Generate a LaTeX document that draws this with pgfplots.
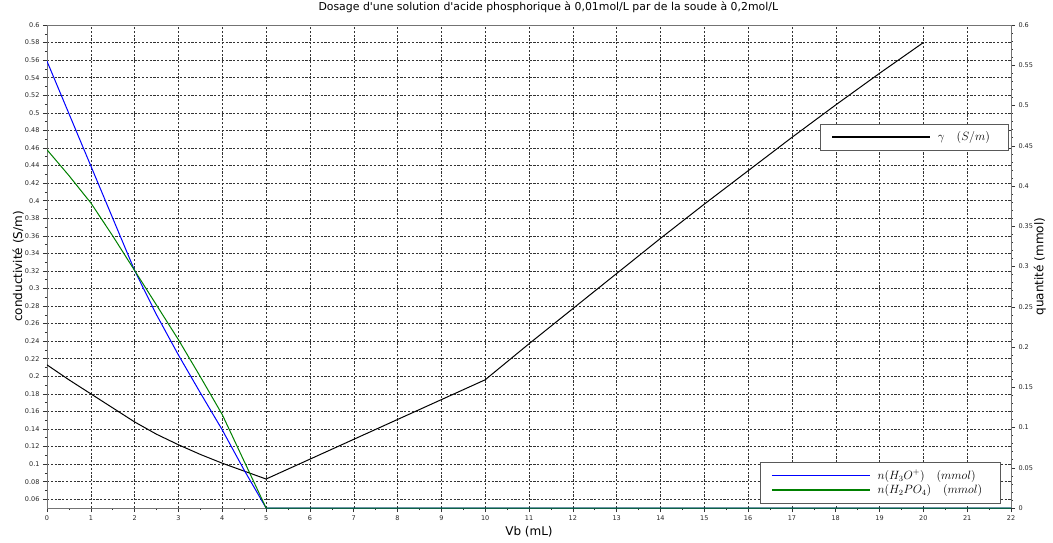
\documentclass[border=0pt]{standalone}
\usepackage{fontspec}
\setmainfont{DejaVu Sans}[Ligatures=TeXOff]
\usepackage{pgfplots}
\pgfplotsset{compat=1.18}
\pgfplotsset{legend image code/.code={\draw[#1, line width=1.2pt] (0pt,0pt) -- (98pt,0pt);}}
\begin{document}
\begin{tikzpicture}[x=1pt,y=1pt]
\useasboundingbox (0,0) rectangle (1053,542);
\pgfplotsset{
  common/.style={
    at={(47pt,34pt)}, anchor=south west,
    scale only axis, width=964pt, height=483pt,
    xmin=0, xmax=22,
    tick align=outside,
    major tick length=4pt, minor tick length=2pt,
    tick style={black!80, line width=0.5pt},
    axis line style={black!55, line width=0.8pt},
    ticklabel style={font=\fontsize{6.5}{7}\selectfont, text=black!85},
    /pgf/number format/assume math mode=true,
    /pgf/number format/fixed,
    /pgf/number format/precision=2,
    scaled ticks=false,
    legend cell align=left,
    legend style={draw=none, fill=white,
      font=\fontsize{12}{14}\selectfont, inner xsep=11pt, inner ysep=5.5pt,
      nodes={inner xsep=7pt}},
  }
}
\begin{axis}[common,
  ymin=0.05, ymax=0.6,
  xtick={0,1,...,22},
  ytick={0.06,0.08,0.1,0.12,0.14,0.16,0.18,0.2,0.22,0.24,0.26,0.28,0.3,0.32,0.34,0.36,0.38,0.4,0.42,0.44,0.46,0.48,0.5,0.52,0.54,0.56,0.58,0.6},
  minor x tick num=1, minor y tick num=1,
  xtick pos=lower, ytick pos=left,
  grid=major,
  major grid style={black!80, dash pattern=on 2.2pt off 1.6pt, line width=0.45pt},
  title={Dosage d'une solution d'acide phosphorique à 0,01mol/L par de la soude à 0,2mol/L},
  title style={at={(axis description cs:0.52,1.025)}, anchor=center, font=\fontsize{10.9}{12}\selectfont},
  xlabel={Vb (mL)},
  xlabel style={at={(axis description cs:0.5,-0.05)}, anchor=center, font=\fontsize{12}{14}\selectfont},
  ylabel={conductivité (S/m)},
  ylabel style={at={(axis description cs:-0.030,0.5)}, anchor=center, rotate=0, font=\fontsize{12}{14}\selectfont},
  legend style={at={(0.997,0.795)}, anchor=north east, name=legA},
]
\addplot[color=black, draw=black, line width=1pt] coordinates {
 (0,0.213) (0.5,0.196) (1,0.180) (1.5,0.164) (2,0.148) (2.5,0.134) (3,0.122)
 (3.5,0.111) (4,0.101) (4.5,0.092) (5,0.083) (10,0.196) (11,0.237) (12,0.277)
 (13,0.317) (14,0.357) (15,0.396) (16,0.434) (17,0.472) (18,0.509) (19,0.545) (20,0.58)
};
\addlegendentry{$\gamma\quad(S/m)$}
\end{axis}
\draw[black!65, line width=0.8pt] (legA.south west) rectangle (legA.north east);
\begin{axis}[common,
  ymin=0, ymax=0.6,
  axis x line=none,
  axis y line*=right,
  ytick={0,0.05,0.1,0.15,0.2,0.25,0.3,0.35,0.4,0.45,0.5,0.55,0.6},
  minor y tick num=4,
  ylabel={quantité (mmol)},
  ylabel style={at={(axis description cs:1.030,0.5)}, anchor=center, rotate=0, font=\fontsize{12}{14}\selectfont},
  legend style={at={(0.989,0.0104)}, anchor=south east, name=legB},
]
\addlegendimage{color=blue, draw=blue, line width=1pt}
\addlegendentry{$n(H_3O^+)\quad(mmol)$}
\addlegendimage{color=green!50!black, draw=green!50!black, line width=1pt}
\addlegendentry{$n(H_2PO_4)\quad(mmol)$}
\addplot[color=blue, draw=blue, line width=1pt, forget plot] coordinates {
 (0,0.555) (1,0.425) (2,0.295) (2.5,0.24) (3,0.19) (3.5,0.143) (4,0.097) (4.5,0.047) (5,0) (22,0)
};
\addplot[color=green!50!black, draw=green!50!black, line width=1pt, forget plot] coordinates {
 (0,0.445) (0.5,0.413) (1,0.379) (1.5,0.338) (2,0.295) (2.5,0.252) (3,0.209)
 (3.5,0.163) (4,0.116) (4.5,0.058) (5,0) (22,0)
};
\end{axis}
\draw[black!65, line width=0.8pt] (legB.south west) rectangle (legB.north east);
\end{tikzpicture}
\end{document}
